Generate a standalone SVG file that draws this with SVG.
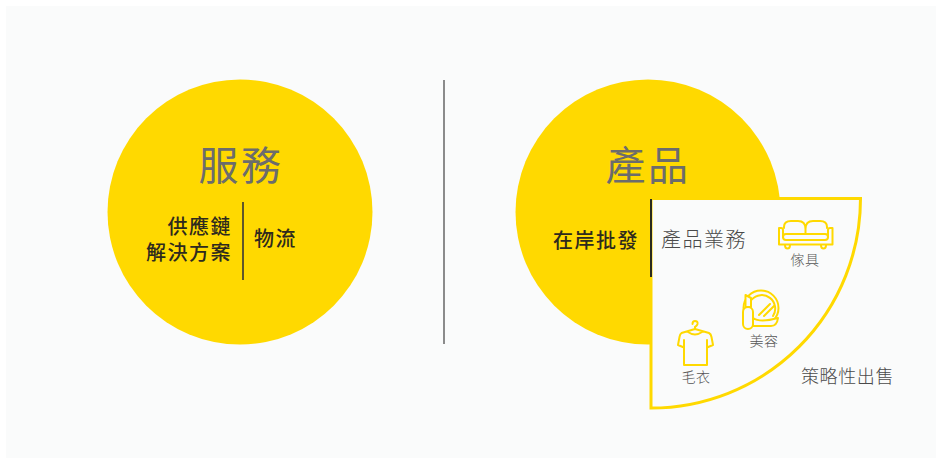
<svg xmlns="http://www.w3.org/2000/svg" width="936" height="458" viewBox="0 0 936 458">
<style>
text{font-family:"Noto Sans CJK TC","Noto Sans CJK SC",sans-serif}
.h{font-size:40px;fill:#6c6c6c;font-weight:400;letter-spacing:2.500px;text-anchor:middle}
.b{font-size:20px;fill:#2e2a1e;font-weight:500;letter-spacing:1.500px}
.m{font-size:20px;fill:#4a4a4a;font-weight:300;letter-spacing:1.500px}
.s{font-size:14px;fill:#555;font-weight:300;text-anchor:middle;letter-spacing:.5px}
.i{fill:none;stroke:#ffd900;stroke-width:2;stroke-linecap:round;stroke-linejoin:round}
.f{fill:#fafbfb;stroke:#ffd900;stroke-width:2;stroke-linecap:round;stroke-linejoin:round}
</style>
<rect width="936" height="458" fill="#fff"/>
<rect x="6" y="6" width="930" height="452" fill="#fafbfb"/>
<g id="service">
<circle cx="240" cy="212" r="132.5" fill="#ffd900"/>
<text class="h" x="241" y="180">服務</text>
<text class="b" text-anchor="end"><tspan x="232" y="234">供應鏈</tspan><tspan x="232" y="260">解決方案</tspan></text>
<text class="b" x="254" y="246">物流</text>
</g>
<g id="product">
<circle cx="648" cy="212" r="132.5" fill="#ffd900"/>
<text class="h" x="648" y="180">產品</text>
<text class="b" x="553" y="248">在岸批發</text>
</g>
<g id="strategic">
<path d="M651 198.500H860.500A209.500 209.500 0 0 1 651 408Z" fill="#fafbfb" stroke="#ffd900" stroke-width="3"/>
<text class="m" x="661" y="247">產品業務</text>
<text class="m" x="801" y="383" style="font-size:18px;letter-spacing:.6px;fill:#4a4a4a">策略性出售</text>
</g>
<g id="furniture">
<path class="i" d="M784 228V227Q784 221 791 221H798Q805.500 221 805.500 229V234M805.500 229Q805.500 221 813 221H820Q827 221 827 227V228"/>
<rect class="i" x="783" y="234" width="45" height="6" rx="3"/>
<path class="i" d="M783 237V230Q783 228 781 228H779V244.500H832.500V228H830Q828 228 828 230V237"/>
<path class="i" d="M785 245Q785 248.500 787.500 248.500Q790 248.500 790 245M821 245Q821 248.500 823.500 248.500Q826 248.500 826 245"/>
<text class="s" x="805" y="265">傢具</text>
</g>
<g id="beauty">
<circle class="i" cx="761" cy="308" r="17.500"/>
<path class="i" d="M752 318A13.500 13.500 0 1 1 773 316"/>
<path class="i" d="M759 315L770 304M764 316L774 306"/>
<path class="f" d="M753 318Q760 323 778 318Q777 326 771 326H753Z"/>
<path class="f" d="M745.500 295L751 298V307H745.500Z"/>
<rect class="f" x="743" y="307" width="10" height="22" rx="5"/>
<text class="s" x="764" y="346">美容</text>
</g>
<g id="clothing">
<path class="i" d="M692.500 324Q692.500 321 695 321Q698 321 697.500 324Q697 326 695 327V329"/>
<path class="i" d="M695 329L681.500 333Q680 334 679.500 337L678 345L684 347.500V365H707V347.500L713 345L711.500 337Q711 334 709 333ZM688 332Q695 337 702 332M684 340V347.500M707 340V347.500"/>
<text class="s" x="696" y="382">毛衣</text>
</g>
<g id="connectors" fill="none">
<path d="M444 80V344" stroke="#666" stroke-width="1.500"/>
<path d="M243 202V280" stroke="#2a2a3a" stroke-width="1.500"/>
<path d="M651 199V277" stroke="#2a2a1e" stroke-width="2"/>
</g>
</svg>
